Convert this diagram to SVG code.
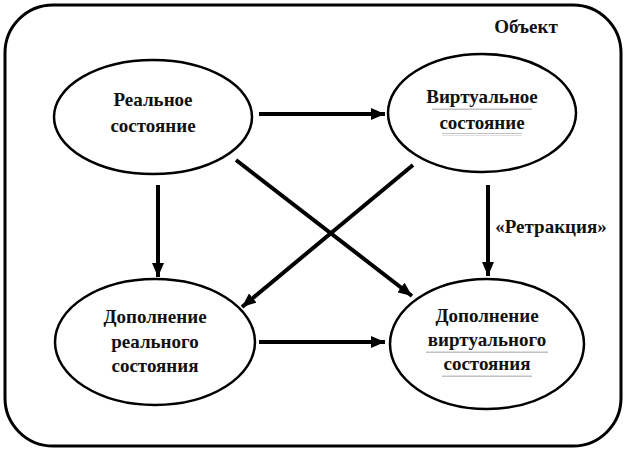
<svg xmlns="http://www.w3.org/2000/svg" width="628" height="451" viewBox="0 0 628 451">
<style>
.node ellipse{fill:#fff;stroke:#000;stroke-width:2.5}
.lbl{font-family:'Liberation Serif','Times New Roman',serif;font-weight:bold;font-size:19px;fill:#111;text-anchor:middle}
.edge{stroke:#000;stroke-width:4;fill:none;marker-end:url(#ah)}
</style>
<defs>
<marker id="ah" markerUnits="userSpaceOnUse" viewBox="0 0 14 12" refX="14" refY="6" markerWidth="14" markerHeight="12" orient="auto">
<path d="M0,0 L14,6 L0,12 Z" fill="#000"/>
</marker>
<pattern id="wv" width="4" height="3" patternUnits="userSpaceOnUse">
<path d="M0,2 L1,0.5 L2,2 L3,0.5 L4,2" fill="none" stroke="#999" stroke-width="0.7"/>
</pattern>
</defs>
<rect x="5" y="5" width="616" height="441" rx="48" ry="48" fill="#fff" stroke="#000" stroke-width="3"/>
<text class="lbl" x="526" y="33">Объект</text>
<g id="connectors">
<line class="edge" x1="259" y1="114" x2="385" y2="114"/>
<line class="edge" x1="158" y1="185" x2="158" y2="277"/>
<line class="edge" x1="488" y1="185" x2="488" y2="276"/>
<line class="edge" x1="236" y1="160" x2="412" y2="296"/>
<line class="edge" x1="413" y1="165" x2="242" y2="307"/>
<line class="edge" x1="259" y1="342" x2="385" y2="342"/>
<text class="lbl" x="551" y="233">«Ретракция»</text>
</g>
<g id="real" class="node">
<ellipse cx="153" cy="117" rx="99" ry="57"/>
<text class="lbl" x="153" y="106">Реальное</text>
<text class="lbl" x="153" y="132">состояние</text>
</g>
<g id="virtual" class="node">
<ellipse cx="482" cy="113" rx="94" ry="59"/>
<text class="lbl" x="482" y="103">Виртуальное</text>
<text class="lbl" x="482" y="129">состояние</text>
<rect x="432" y="107" width="100" height="3" fill="url(#wv)"/>
<rect x="442" y="133" width="80" height="3" fill="url(#wv)"/>
</g>
<g id="complement-real" class="node">
<ellipse cx="155" cy="342" rx="100" ry="63"/>
<text class="lbl" x="155" y="323">Дополнение</text>
<text class="lbl" x="155" y="348">реального</text>
<text class="lbl" x="155" y="372">состояния</text>
</g>
<g id="complement-virtual" class="node">
<ellipse cx="487" cy="344" rx="97" ry="65"/>
<text class="lbl" x="487" y="322">Дополнение</text>
<text class="lbl" x="487" y="346">виртуального</text>
<text class="lbl" x="487" y="370">состояния</text>
<rect x="426" y="350" width="122" height="3" fill="url(#wv)"/>
<rect x="442" y="374" width="90" height="3" fill="url(#wv)"/>
</g>
</svg>
